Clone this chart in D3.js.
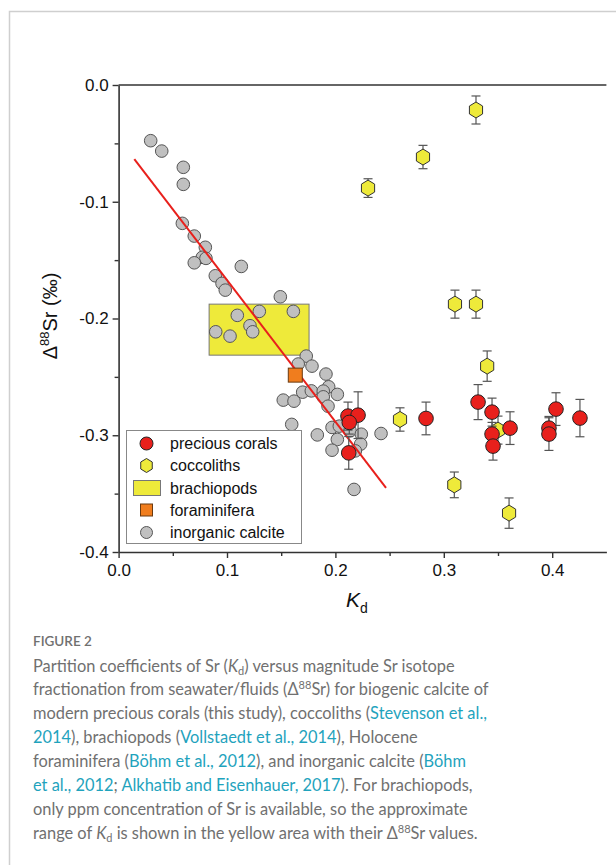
<!DOCTYPE html>
<html lang="en">
<head>
<meta charset="UTF-8">
<title>Kd vs d88Sr</title>
<script src="https://cdn.jsdelivr.net/npm/d3@7"></script>
<style>
  body { margin: 0; background: #fff; }
  svg { display: block; }
</style>
</head>
<body>
<script>
// --- data (Kd, delta88Sr, error) ---
var coralKd  = [0.2116, 0.2209, 0.2128, 0.2123, 0.2836, 0.3316, 0.3445, 0.3445, 0.3454, 0.3611, 0.3970, 0.3970, 0.4035, 0.4256];
var coralD   = [-0.2836, -0.2828, -0.2890, -0.3151, -0.2856, -0.2716, -0.2802, -0.2990, -0.3093, -0.2939, -0.2939, -0.2990, -0.2776, -0.2853];
var coralErr = [0.012, 0.020, 0.010, 0.014, 0.014, 0.015, 0.012, 0.010, 0.012, 0.014, 0.010, 0.014, 0.014, 0.016];

var coccoKd  = [0.3297, 0.2808, 0.2301, 0.3103, 0.3297, 0.3400, 0.3500, 0.2596, 0.3097, 0.3602];
var coccoD   = [-0.0214, -0.0617, -0.0883, -0.1877, -0.1877, -0.2408, -0.2956, -0.2865, -0.3425, -0.3667];
var coccoErr = [0.012, 0.010, 0.008, 0.012, 0.012, 0.013, 0.012, 0.010, 0.011, 0.013];

var brachKd = [0.0835, 0.1757];
var brachD  = [-0.1877, -0.2314];

var foramKd = [0.163];
var foramD  = [-0.2485];

var calcKd = [0.0296, 0.0398, 0.0597, 0.0597, 0.0588, 0.0698, 0.0800, 0.0772, 0.0806, 0.0698,
              0.1132, 0.0892, 0.0954, 0.0984, 0.1492, 0.1095, 0.1298, 0.1612, 0.0896, 0.1028,
              0.1212, 0.1237, 0.1731, 0.1657, 0.1784, 0.1913, 0.1938, 0.1698, 0.1778, 0.1888,
              0.1888, 0.2018, 0.1932, 0.1969, 0.2036, 0.2135, 0.2239, 0.1833, 0.2018, 0.2233,
              0.1969, 0.2184, 0.2421, 0.2172, 0.1519, 0.1618, 0.1597];
var calcD  = [-0.0477, -0.0566, -0.0705, -0.0851, -0.1185, -0.1294, -0.1390, -0.1476, -0.1485, -0.1523,
              -0.1554, -0.1634, -0.1699, -0.1757, -0.1814, -0.1973, -0.1939, -0.1939, -0.2114, -0.2151,
              -0.2062, -0.2114, -0.2322, -0.2390, -0.2408, -0.2476, -0.2585, -0.2631, -0.2620, -0.2622,
              -0.2671, -0.2650, -0.2751, -0.2933, -0.2922, -0.2962, -0.2991, -0.2997, -0.3036, -0.3076,
              -0.3128, -0.3134, -0.2985, -0.3464, -0.2699, -0.2708, -0.2907];

var fitKd = [0.0145, 0.2467];
var fitD  = [-0.0634, -0.3450];

var xTicks = [0, 0.1, 0.2, 0.3, 0.4];
var yTicks = [0, -0.1, -0.2, -0.3, -0.4];
var legendLabels = ["precious corals", "coccoliths", "brachiopods", "foraminifera", "inorganic calcite"];

var captionLines = [
  [["Partition coefficients of Sr (", 0], ["K", 2], ["d", 3], [") versus magnitude Sr isotope", 0]],
  [["fractionation from seawater/fluids (\u0394", 0], ["88", 4], ["Sr) for biogenic calcite of", 0]],
  [["modern precious corals (this study), coccoliths (", 0], ["Stevenson et al.,", 1]],
  [["2014", 1], ["), brachiopods (", 0], ["Vollstaedt et al., 2014", 1], ["), Holocene", 0]],
  [["foraminifera (", 0], ["B\u00f6hm et al., 2012", 1], ["), and inorganic calcite (", 0], ["B\u00f6hm", 1]],
  [["et al., 2012", 1], ["; ", 0], ["Alkhatib and Eisenhauer, 2017", 1], ["). For brachiopods,", 0]],
  [["only ppm concentration of Sr is available, so the approximate", 0]],
  [["range of ", 0], ["K", 2], ["d", 3], [" is shown in the yellow area with their \u0394", 0], ["88", 4], ["Sr values.", 0]]
];

var width = 616, height = 865;
var svg = d3.select("body").append("svg").attr("width", width).attr("height", height);

// page frame
svg.append("path").attr("d", "M9.5," + height + "V11.5H" + width)
   .attr("fill", "none").attr("stroke", "#cfcfcf").attr("stroke-width", 1.5);

var x = d3.scaleLinear().domain([0, 0.45]).range([118.6, 606.4]);
var y = d3.scaleLinear().domain([0, -0.4]).range([85, 552]);

var fmt = function(d) { return d.toFixed(1); };
var axisFont = "Liberation Sans, Arial, sans-serif";

// top line
svg.append("line").attr("x1", x(0)).attr("x2", x(0.45)).attr("y1", y(0)).attr("y2", y(0))
   .attr("stroke", "#333").attr("stroke-width", 1.6);

// bottom axis
svg.append("g").attr("transform", "translate(0," + y(-0.4) + ")")
   .call(d3.axisBottom(x).tickValues(xTicks).tickFormat(fmt).tickSize(6).tickSizeOuter(0).tickPadding(6));
svg.append("g").attr("transform", "translate(0," + y(-0.4) + ")")
   .call(d3.axisBottom(x).tickValues([0.05, 0.15, 0.25, 0.35]).tickFormat("").tickSize(4).tickSizeOuter(0))
   .select(".domain").remove();

// left axis
svg.append("g").attr("transform", "translate(" + x(0) + ",0)")
   .call(d3.axisLeft(y).tickValues(yTicks).tickFormat(fmt).tickSize(6).tickSizeOuter(0).tickPadding(4));
svg.append("g").attr("transform", "translate(" + x(0) + ",0)")
   .call(d3.axisLeft(y).tickValues([-0.05, -0.15, -0.25, -0.35]).tickFormat("").tickSize(4).tickSizeOuter(0))
   .select(".domain").remove();

svg.selectAll(".domain").attr("stroke", "#333").attr("stroke-width", 1.6);
svg.selectAll(".tick line").attr("stroke", "#333").attr("stroke-width", 1.4);
svg.selectAll(".tick text").attr("font-family", axisFont).attr("font-size", 17).attr("fill", "#111");

// axis titles
var xt = svg.append("text").attr("x", 357).attr("y", 607).attr("text-anchor", "middle")
   .attr("font-family", axisFont).attr("fill", "#111");
xt.append("tspan").attr("font-size", 21).attr("font-style", "italic").text("K");
xt.append("tspan").attr("font-size", 14).attr("dy", 6).text("d");

var yt = svg.append("text").attr("transform", "translate(57,316) rotate(-90)").attr("text-anchor", "middle")
   .attr("font-family", axisFont).attr("font-size", 20).attr("fill", "#111");
yt.append("tspan").text("\u0394");
yt.append("tspan").attr("font-size", 13).attr("dy", -8).text("88");
yt.append("tspan").attr("dy", 8).text("Sr (\u2030)");

// brachiopods box
svg.append("rect")
   .attr("x", x(brachKd[0])).attr("y", y(brachD[0]))
   .attr("width", x(brachKd[1]) - x(brachKd[0])).attr("height", y(brachD[1]) - y(brachD[0]))
   .attr("fill", "#eeea3a").attr("stroke", "#777").attr("stroke-width", 1);

// inorganic calcite
svg.append("g").selectAll("circle").data(calcKd).enter().append("circle")
   .attr("cx", function(d) { return x(d); })
   .attr("cy", function(d, i) { return y(calcD[i]); })
   .attr("r", 6.3).attr("fill", "#c0c0c0").attr("stroke", "#555").attr("stroke-width", 1);

// regression line
svg.append("line")
   .attr("x1", x(fitKd[0])).attr("y1", y(fitD[0])).attr("x2", x(fitKd[1])).attr("y2", y(fitD[1]))
   .attr("stroke", "#e8201c").attr("stroke-width", 2);

// foraminifera
svg.append("g").selectAll("rect").data(foramKd).enter().append("rect")
   .attr("x", function(d) { return x(d) - 7; })
   .attr("y", function(d, i) { return y(foramD[i]) - 7; })
   .attr("width", 14).attr("height", 14)
   .attr("fill", "#f07d1e").attr("stroke", "#6a3a10").attr("stroke-width", 1);

function errorBars(g, kd, dv, err) {
  var eb = g.append("g").selectAll("g").data(kd).enter().append("g")
     .attr("stroke", "#555").attr("stroke-width", 1.2);
  eb.append("line")
     .attr("x1", function(d) { return x(d); }).attr("x2", function(d) { return x(d); })
     .attr("y1", function(d, i) { return y(dv[i] + err[i]); })
     .attr("y2", function(d, i) { return y(dv[i] - err[i]); });
  [1, -1].forEach(function(s) {
    eb.append("line")
       .attr("x1", function(d) { return x(d) - 4.5; }).attr("x2", function(d) { return x(d) + 4.5; })
       .attr("y1", function(d, i) { return y(dv[i] + s * err[i]); })
       .attr("y2", function(d, i) { return y(dv[i] + s * err[i]); });
  });
}

var hexPath = function(r) {
  var pts = d3.range(6).map(function(k) {
    var a = Math.PI / 6 + k * Math.PI / 3;
    return [r * Math.cos(a) * 0.95, r * Math.sin(a)];
  });
  return "M" + pts.join("L") + "Z";
};

// coccoliths
var gc = svg.append("g");
errorBars(gc, coccoKd, coccoD, coccoErr);
gc.append("g").selectAll("path").data(coccoKd).enter().append("path")
   .attr("d", hexPath(8))
   .attr("transform", function(d, i) { return "translate(" + x(d) + "," + y(coccoD[i]) + ")"; })
   .attr("fill", "#eeea3a").attr("stroke", "#333").attr("stroke-width", 1);

// precious corals
var gr = svg.append("g");
errorBars(gr, coralKd, coralD, coralErr);
gr.append("g").selectAll("circle").data(coralKd).enter().append("circle")
   .attr("cx", function(d) { return x(d); })
   .attr("cy", function(d, i) { return y(coralD[i]); })
   .attr("r", 7.3).attr("fill", "#e8201c").attr("stroke", "#222").attr("stroke-width", 1);

// legend
var lg = svg.append("g");
lg.append("rect").attr("x", 126.5).attr("y", 430.5).attr("width", 175).attr("height", 113)
   .attr("fill", "#fff").attr("stroke", "#888").attr("stroke-width", 1);
var rowY = [443.5, 465.5, 488, 510, 532.5];
var mx = 146.5;
lg.append("circle").attr("cx", mx).attr("cy", rowY[0]).attr("r", 6.5)
   .attr("fill", "#e8201c").attr("stroke", "#222");
lg.append("path").attr("d", hexPath(7)).attr("transform", "translate(" + mx + "," + rowY[1] + ")")
   .attr("fill", "#eeea3a").attr("stroke", "#333");
lg.append("rect").attr("x", mx - 13).attr("y", rowY[2] - 7.5).attr("width", 27).attr("height", 15)
   .attr("fill", "#eeea3a").attr("stroke", "#777");
lg.append("rect").attr("x", mx - 6).attr("y", rowY[3] - 6).attr("width", 12).attr("height", 12)
   .attr("fill", "#f07d1e").attr("stroke", "#6a3a10");
lg.append("circle").attr("cx", mx).attr("cy", rowY[4]).attr("r", 6)
   .attr("fill", "#c0c0c0").attr("stroke", "#555");
lg.selectAll("text.lab").data(legendLabels).enter().append("text").attr("class", "lab")
   .attr("x", 170).attr("y", function(d, i) { return rowY[i] + 5.5; })
   .attr("font-family", axisFont).attr("font-size", 16).attr("fill", "#111")
   .text(function(d) { return d; });

// caption
var capFont = "Lato, 'Open Sans', sans-serif";
svg.append("text").attr("x", 33).attr("y", 646).attr("font-family", capFont)
   .attr("font-size", 13.5).attr("font-weight", 600).attr("fill", "#707070").text("FIGURE 2");
var colors = ["#707070", "#1fa3bd"];
captionLines.forEach(function(line, li) {
  var t = svg.append("text").attr("x", 33).attr("y", 671.5 + li * 23.9)
     .attr("font-family", capFont).attr("font-size", 16.4).attr("fill", colors[0]);
  line.forEach(function(seg, si) {
    var s = t.append("tspan").text(seg[0]);
    if (seg[1] === 1) s.attr("fill", colors[1]);
    if (seg[1] === 2) s.attr("font-style", "italic");
    if (seg[1] === 3) s.attr("font-size", 11).attr("dy", 3);
    if (seg[1] === 4) s.attr("font-size", 11).attr("dy", -6);
    // restore baseline after sub/superscript
    var prev = line[si - 1];
    if (seg[1] < 2 && prev && prev[1] === 3) s.attr("dy", -3);
    if (seg[1] < 2 && prev && prev[1] === 4) s.attr("dy", 6);
  });
});
</script>
</body>
</html>
